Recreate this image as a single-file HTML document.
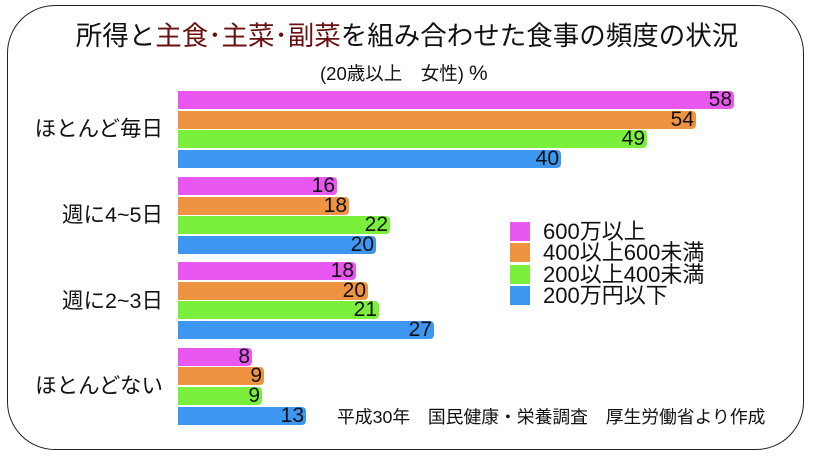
<!DOCTYPE html>
<html><head><meta charset="utf-8"><style>
html,body{margin:0;padding:0;background:#fff;}
body{width:814px;height:462px;position:relative;overflow:hidden;font-family:"Liberation Sans","Noto Sans CJK JP",sans-serif;color:#111;}
.frame{position:absolute;left:7px;top:5px;width:797px;height:445px;border:1.5px solid #222;border-radius:48px;box-sizing:border-box;}
.t{position:absolute;white-space:nowrap;}
.bar{position:absolute;left:178px;height:18px;border-radius:0 4px 4px 0;}
.bar span{position:absolute;right:2px;top:-3px;font-size:21px;line-height:24px;color:#111;}
.m{background:#e858f0}.o{background:#ee9440}.g{background:#7af03c}.b{background:#3d96f0}
.sw{position:absolute;left:510px;width:20px;height:19px;}
.lg{position:absolute;left:543px;font-size:22px;line-height:22px;white-space:nowrap;}
.cat{position:absolute;right:651px;font-size:21.5px;line-height:24px;white-space:nowrap;}
</style></head><body>
<div class="frame"></div>
<div class="t" style="left:0;width:814px;text-align:center;top:19px;font-size:26.5px;line-height:34px;">所得と<span style="color:#6a1010">主食･主菜･副菜</span>を組み合わせた食事の頻度の状況</div>
<div class="t" style="left:320px;top:62px;font-size:18.5px;line-height:24px;">(20歳以上　女性) <span style="font-size:21px">%</span></div>

<div class="cat" style="top:117px;">ほとんど毎日</div>
<div class="cat" style="top:203px;">週に4~5日</div>
<div class="cat" style="top:289px;">週に2~3日</div>
<div class="cat" style="top:374px;">ほとんどない</div>

<div class="bar m" style="top:91px;width:556px"><span>58</span></div>
<div class="bar o" style="top:111px;width:518px"><span>54</span></div>
<div class="bar g" style="top:130px;width:469px"><span>49</span></div>
<div class="bar b" style="top:150px;width:383px"><span>40</span></div>

<div class="bar m" style="top:177px;width:159px"><span>16</span></div>
<div class="bar o" style="top:197px;width:171px"><span>18</span></div>
<div class="bar g" style="top:216px;width:212px"><span>22</span></div>
<div class="bar b" style="top:236px;width:198px"><span>20</span></div>

<div class="bar m" style="top:262px;width:178px"><span>18</span></div>
<div class="bar o" style="top:282px;width:190px"><span>20</span></div>
<div class="bar g" style="top:301px;width:201px"><span>21</span></div>
<div class="bar b" style="top:321px;width:256px"><span>27</span></div>

<div class="bar m" style="top:348px;width:74px"><span>8</span></div>
<div class="bar o" style="top:367px;width:86px"><span>9</span></div>
<div class="bar g" style="top:387px;width:84px"><span>9</span></div>
<div class="bar b" style="top:407px;width:128px"><span>13</span></div>

<div class="sw m" style="top:222px"></div><div class="lg" style="top:221px">600万以上</div>
<div class="sw o" style="top:243px"></div><div class="lg" style="top:242px">400以上600未満</div>
<div class="sw g" style="top:265px"></div><div class="lg" style="top:264px">200以上400未満</div>
<div class="sw b" style="top:286px"></div><div class="lg" style="top:285px">200万円以下</div>

<div class="t" style="left:337px;top:406px;font-size:17.8px;line-height:22px;">平成30年　国民健康・栄養調査　厚生労働省より作成</div>
</body></html>
